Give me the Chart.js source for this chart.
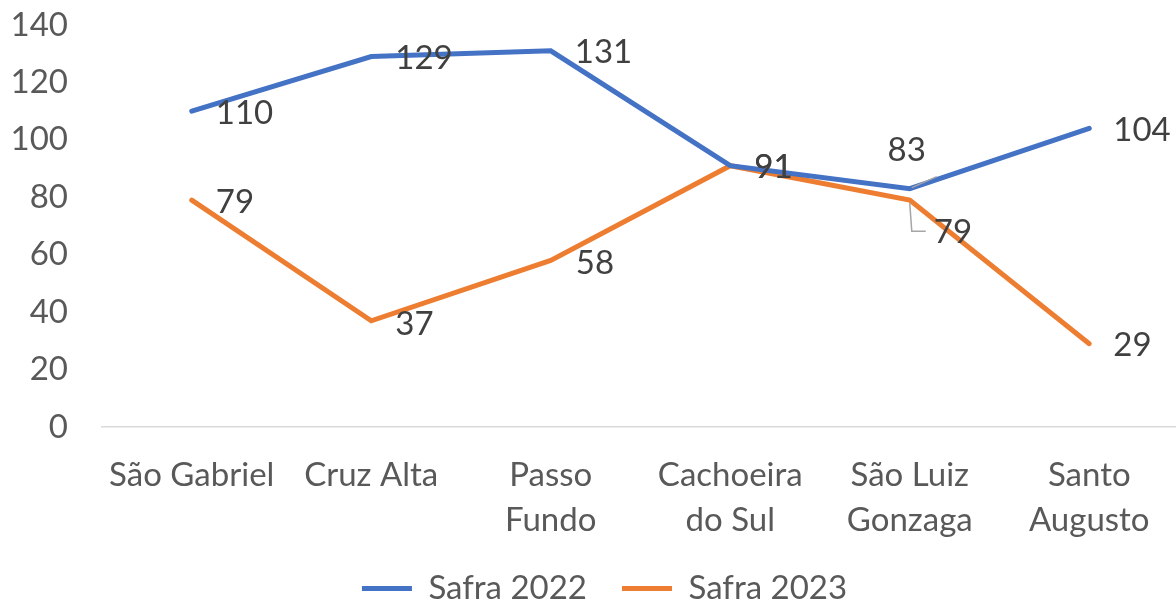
<!DOCTYPE html>
<html>
<head>
<meta charset="utf-8">
<script src="https://cdn.jsdelivr.net/npm/chart.js@4/dist/chart.umd.min.js"></script>
<style>
  html, body { margin: 0; padding: 0; background: #fff; overflow: hidden; }
  #wrap { width: 1179px; height: 615px; }
</style>
</head>
<body>
<div id="wrap"><canvas id="myChart" width="1179" height="615"></canvas></div>
<script>
const categories = ['São Gabriel', 'Cruz Alta', ['Passo', 'Fundo'], ['Cachoeira', 'do Sul'], ['São Luiz', 'Gonzaga'], ['Santo', 'Augusto']]
const safra2022 = [110, 129, 131, 91, 83, 104]
const safra2023 = [79, 37, 58, 91, 79, 29]
const yTicks = [0, 20, 40, 60, 80, 100, 120, 140]

const FONT = 'Lato, "Open Sans", sans-serif'
const FS = 33

// label offsets from the point, [dx, dy]; leader lines where excel pushed a label away
const labelOffsets = {
  0: {4: [-3, -38]},
  1: {1: [24, 4], 2: [25, 3], 4: [24, 32]}
}
const leaders = {
  0: {4: [[2, -1], [27, -12]]},
  1: {4: [[0, 3], [2, 31], [16, 31]]}
}

const labelPlugin = {
  id: 'pointLabels',
  afterLayout(chart) {
    // legend sits a bit right of the canvas centre in the original
    chart.legend.left += 15
    chart.legend.right += 15
  },
  afterDatasetsDraw(chart) {
    const ctx = chart.ctx
    ctx.save()
    chart.data.datasets.forEach(function(ds, di) {
      const meta = chart.getDatasetMeta(di)
      meta.data.forEach(function(pt, i) {
        const lead = leaders[di] && leaders[di][i]
        if (lead) {
          ctx.strokeStyle = '#A6A6A6'
          ctx.lineWidth = 1.5
          ctx.beginPath()
          lead.forEach(function(p, k) {
            if (k == 0) ctx.moveTo(pt.x + p[0], pt.y + p[1])
            else ctx.lineTo(pt.x + p[0], pt.y + p[1])
          })
          ctx.stroke()
        }
        const off = (labelOffsets[di] && labelOffsets[di][i]) || [24, 2]
        ctx.font = FS + 'px ' + FONT
        ctx.fillStyle = '#404040'
        ctx.textBaseline = 'middle'
        ctx.textAlign = (off[0] < 5 && off[0] > -10) ? 'center' : 'left'
        ctx.fillText(String(ds.data[i]), pt.x + off[0], pt.y + off[1])
      })
    })
    ctx.restore()
  }
}

const ctx = document.getElementById('myChart')
new Chart(ctx, {
  type: 'line',
  data: {
    labels: categories,
    datasets: [{
      label: 'Safra 2022',
      data: safra2022,
      borderColor: '#4472C4',
      backgroundColor: '#4472C4',
      borderWidth: 5,
      pointRadius: 0,
      borderCapStyle: 'round',
      tension: 0
    }, {
      label: 'Safra 2023',
      data: safra2023,
      borderColor: '#ED7D31',
      backgroundColor: '#ED7D31',
      borderWidth: 5,
      pointRadius: 0,
      borderCapStyle: 'round',
      tension: 0
    }]
  },
  options: {
    responsive: false,
    animation: false,
    layout: { padding: { left: 0, top: 25, right: 0, bottom: 0 } },
    scales: {
      x: {
        offset: true,
        afterFit: function(axis) { axis.height = 110 },
        grid: { display: false, drawTicks: false },
        border: { color: '#D9D9D9', width: 1.5 },
        ticks: { color: '#595959', font: { family: FONT, size: FS, lineHeight: 1.36 }, padding: 26, maxRotation: 0, autoSkip: false }
      },
      y: {
        min: 0,
        max: 140,
        afterFit: function(axis) { axis.width = 102 },
        afterBuildTicks: function(axis) { axis.ticks = yTicks.map(function(v) { return {value: v} }) },
        grid: { display: true, drawOnChartArea: false, drawTicks: true, tickLength: 34, color: 'transparent' },
        border: { display: false },
        ticks: { color: '#595959', font: { family: FONT, size: FS }, padding: 0 }
      }
    },
    plugins: {
      legend: {
        position: 'bottom',
        labels: {
          color: '#595959',
          font: { family: FONT, size: FS },
          boxWidth: 50,
          boxHeight: 5,
          padding: 35,
          generateLabels: function(chart) {
            return chart.data.datasets.map(function(ds, i) {
              return { text: ds.label, fillStyle: ds.borderColor, strokeStyle: ds.borderColor, lineWidth: 0, datasetIndex: i, fontColor: '#595959' }
            })
          }
        }
      },
      tooltip: { enabled: false }
    }
  },
  plugins: [labelPlugin]
})
</script>
</body>
</html>
